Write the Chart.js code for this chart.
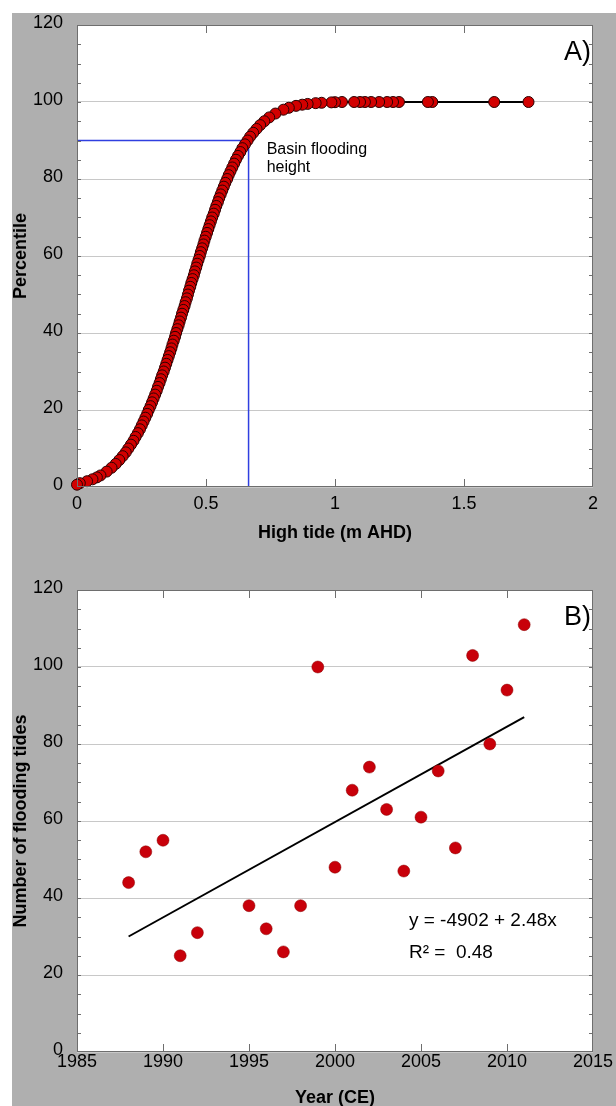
<!DOCTYPE html>
<html>
<head>
<meta charset="utf-8">
<title>High tide percentile and flooding tides</title>
<script src="https://cdn.jsdelivr.net/npm/chart.js@4.4.1/dist/chart.umd.min.js"></script>
<style>
  html, body { margin: 0; padding: 0; background: #fff; overflow: hidden; }
  #page { position: relative; width: 616px; height: 1106px; overflow: hidden; }
  #grey { position: absolute; left: 12px; top: 13px; right: 0; bottom: 0; background: #afafaf; }
  canvas { position: absolute; left: 0; }
  #chartA { top: 0; }
  #chartB { top: 565px; }
</style>
</head>
<body>
<div id="page">
  <div id="grey"></div>
  <canvas id="chartA" width="616" height="560" style="width:616px;height:560px"></canvas>
  <canvas id="chartB" width="616" height="560" style="width:616px;height:560px"></canvas>
</div>

<script>
const FONT = "'Liberation Sans', Arial, sans-serif";

// A) high tide heights (m AHD) and their percentile
const tideHeight = [
  0.000, 0.011, 0.039, 0.060, 0.077, 0.091,
  0.115, 0.134, 0.150, 0.164, 0.177, 0.189, 0.199, 0.209, 0.219, 0.227,
  0.236, 0.244, 0.251, 0.258, 0.265, 0.272, 0.278, 0.285, 0.291, 0.297,
  0.303, 0.309, 0.314, 0.320, 0.325, 0.330, 0.336, 0.341, 0.346, 0.351,
  0.356, 0.361, 0.366, 0.370, 0.375, 0.380, 0.384, 0.389, 0.394, 0.398,
  0.403, 0.407, 0.412, 0.417, 0.421, 0.426, 0.430, 0.434, 0.439, 0.443,
  0.448, 0.453, 0.457, 0.462, 0.466, 0.471, 0.476, 0.480, 0.485, 0.490,
  0.494, 0.499, 0.504, 0.509, 0.514, 0.519, 0.524, 0.530, 0.535, 0.540,
  0.546, 0.551, 0.557, 0.563, 0.569, 0.575, 0.582, 0.588, 0.595, 0.602,
  0.609, 0.616, 0.624, 0.633, 0.641, 0.651, 0.661, 0.671, 0.683, 0.696,
  0.710, 0.726, 0.745, 0.769, 0.800,
  0.821, 0.849, 0.873, 0.894, 0.925, 0.948, 0.986, 1.000,
  1.027, 1.074, 1.097, 1.116, 1.140, 1.171, 1.202, 1.225, 1.248, 1.360, 1.377, 1.617, 1.750
];
const tidePercentile = [
  0.6, 1, 1.5, 2, 2.5, 3,
  4, 5, 6, 7, 8, 9, 10, 11, 12, 13,
  14, 15, 16, 17, 18, 19, 20, 21, 22, 23,
  24, 25, 26, 27, 28, 29, 30, 31, 32, 33,
  34, 35, 36, 37, 38, 39, 40, 41, 42, 43,
  44, 45, 46, 47, 48, 49, 50, 51, 52, 53,
  54, 55, 56, 57, 58, 59, 60, 61, 62, 63,
  64, 65, 66, 67, 68, 69, 70, 71, 72, 73,
  74, 75, 76, 77, 78, 79, 80, 81, 82, 83,
  84, 85, 86, 87, 88, 89, 90, 91, 92, 93,
  94, 95, 96, 97, 98,
  98.5, 99, 99.3, 99.5, 99.7, 99.8, 99.9, 99.95,
  100, 100, 100, 100, 100, 100, 100, 100, 100, 100, 100, 100, 100
];
const floodHeight = 0.665;
const floodPercentile = 90;

// B) number of flooding tides per year
const years = [1988, 1989, 1990, 1991, 1992, 1995, 1996, 1997, 1998, 1999, 2000,
  2001, 2002, 2003, 2004, 2005, 2006, 2007, 2008, 2009, 2010, 2011];
const floodTides = [44, 52, 55, 25, 31, 38, 32, 26, 38, 100, 48,
  68, 74, 63, 47, 61, 73, 53, 103, 80, 94, 111];
const trendYears = [1988, 2011];
const trendTides = [30, 87];

// frame, inside ticks and text labels (matlab style)
const frame = {
  id: "frame",
  beforeDraw(chart) {
    const { ctx, chartArea: a } = chart;
    ctx.save();
    ctx.fillStyle = "#fff";
    ctx.fillRect(a.left, a.top, a.right - a.left, a.bottom - a.top);
    ctx.restore();
  },
  afterDraw(chart, args, opts) {
    const { ctx, chartArea: a, scales: { x, y } } = chart;
    ctx.save();
    ctx.strokeStyle = "#6e6e6e";
    ctx.lineWidth = 1;
    ctx.beginPath();
    opts.xTicks.forEach((v) => {
      const px = Math.round(x.getPixelForValue(v)) + 0.5;
      ctx.moveTo(px, a.bottom); ctx.lineTo(px, a.bottom - 8);
      ctx.moveTo(px, a.top); ctx.lineTo(px, a.top + 8);
    });
    for (let v = y.min + opts.yMinor; v < y.max; v += opts.yMinor) {
      const py = Math.round(y.getPixelForValue(v)) + 0.5;
      ctx.moveTo(a.left, py); ctx.lineTo(a.left + 4, py);
      ctx.moveTo(a.right, py); ctx.lineTo(a.right - 4, py);
    }
    ctx.stroke();
    ctx.strokeRect(a.left + 0.5, a.top + 0.5, a.right - a.left - 1, a.bottom - a.top - 1);

    ctx.fillStyle = "#000";
    ctx.textBaseline = "middle";
    ctx.textAlign = "right";
    ctx.font = "27px " + FONT;
    ctx.fillText(opts.label, a.right - 2, a.top + 28);

    ctx.textAlign = "left";
    opts.notes.forEach((n) => {
      ctx.font = n.size + "px " + FONT;
      n.lines.forEach((t, i) => {
        ctx.fillText(t, x.getPixelForValue(n.x), y.getPixelForValue(n.y) + i * n.gap);
      });
    });
    ctx.restore();
  }
};

function makePanel(id, datasets, xOpts, xTitle, yTitle, xLabelPad, decor) {
  return new Chart(document.getElementById(id), {
    type: "scatter",
    data: { datasets },
    plugins: [frame],
    options: {
      responsive: false,
      animation: false,
      events: [],
      layout: { padding: { left: 0, top: 25, right: 23, bottom: 0 } },
      plugins: {
        legend: { display: false },
        tooltip: { enabled: false },
        frame: decor
      },
      scales: {
        x: {
          type: "linear",
          min: xOpts.min,
          max: xOpts.max,
          afterFit: (s) => { s.height = 73; },
          afterBuildTicks: (s) => { s.ticks = xOpts.ticks.map((v) => ({ value: v })); },
          ticks: {
            padding: xLabelPad,
            maxRotation: 0,
            autoSkip: false,
            color: "#000",
            font: { family: FONT, size: 18 },
            callback: (v) => String(v)
          },
          grid: { display: false, drawTicks: false },
          border: { display: false },
          title: {
            display: true,
            text: xTitle,
            color: "#000",
            font: { family: FONT, size: 18, weight: "bold" },
            padding: { top: 0, bottom: 16 }
          }
        },
        y: {
          min: 0,
          max: 120,
          afterFit: (s) => { s.width = 77; },
          ticks: {
            stepSize: 20,
            padding: 14,
            labelOffset: -2,
            color: "#000",
            font: { family: FONT, size: 18 }
          },
          grid: { color: "#c8c8c8", drawTicks: false },
          border: { display: false },
          title: {
            display: true,
            text: yTitle,
            color: "#000",
            font: { family: FONT, size: 18, weight: "bold" },
            padding: { top: 10, bottom: 0 }
          }
        }
      }
    }
  });
}

// the original draws the sorted tides from high to low, so low ones sit on top
const tidePoints = tideHeight.map((h, i) => ({ x: h, y: tidePercentile[i] })).reverse();

makePanel("chartA", [
  {
    data: tidePoints,
    showLine: true,
    borderColor: "#000",
    borderWidth: 2,
    pointRadius: 5.5,
    pointBorderWidth: 1,
    pointBackgroundColor: "#d20000",
    pointBorderColor: "#2a0000",
    clip: false
  },
  {
    data: [
      { x: 0, y: floodPercentile },
      { x: floodHeight, y: floodPercentile },
      { x: floodHeight, y: 0 }
    ],
    showLine: true,
    borderColor: "#2f3fe0",
    borderWidth: 1.5,
    pointRadius: 0
  }
], { min: 0, max: 2, ticks: [0, 0.5, 1, 1.5, 2] }, "High tide (m AHD)", "Percentile", 6, {
  label: "A)",
  xTicks: [0.5, 1, 1.5],
  yMinor: 5,
  notes: [{ x: 0.735, y: 87.6, size: 16, gap: 18, lines: ["Basin flooding", "height"] }]
});

makePanel("chartB", [
  {
    data: years.map((yr, i) => ({ x: yr, y: floodTides[i] })),
    pointRadius: 6,
    pointBorderWidth: 0.5,
    pointBackgroundColor: "#c8000a",
    pointBorderColor: "#8a0000"
  },
  {
    data: trendYears.map((yr, i) => ({ x: yr, y: trendTides[i] })),
    showLine: true,
    borderColor: "#000",
    borderWidth: 2,
    pointRadius: 0
  }
], { min: 1985, max: 2015, ticks: [1985, 1990, 1995, 2000, 2005, 2010, 2015] }, "Year (CE)", "Number of flooding tides", -1, {
  label: "B)",
  xTicks: [1990, 1995, 2000, 2005, 2010],
  yMinor: 5,
  notes: [{ x: 2004.3, y: 34.2, size: 19, gap: 32, lines: ["y = -4902 + 2.48x", "R\u00B2 =  0.48"] }]
});
</script>
</body>
</html>
